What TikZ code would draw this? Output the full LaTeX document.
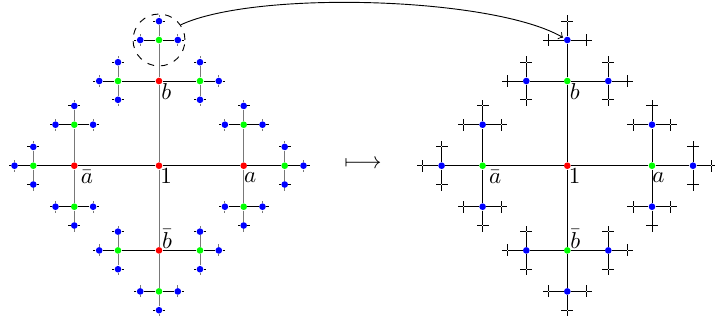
\documentclass[tikz,border=0pt]{standalone}
\usetikzlibrary{calc}
\definecolor{dotred}{RGB}{255,0,0}
\definecolor{dotgreen}{RGB}{0,255,0}
\definecolor{dotblue}{RGB}{0,0,255}
\definecolor{bline}{RGB}{120,120,120}
\tikzset{
  dotbase/.style={circle, inner sep=0pt, minimum size=2.9pt, draw=none},
  redpt/.style={dotbase, fill=dotred},
  greenpt/.style={dotbase, fill=dotgreen},
  bluept/.style={dotbase, fill=dotblue},
  barept/.style={inner sep=0pt, minimum size=0pt},
  lab/.style={inner sep=0pt, anchor=base west},
  selcircle/.style={draw, dashed, circle, inner sep=0pt, minimum size=22.6pt},
}
\newcommand\dirs{E/1/0/hl,N/0/-1/vl,W/-1/0/hl,S/0/1/vl}
\newcommand\cayleytree[3]{%
  \node[lvA] (#1) at (#2,#3) {};
  \foreach \da/\ax/\ay/\as in \dirs {%
    \node[lvB] (#1-\da) at ($(#1)+(84.7*\ax,84.7*\ay)$) {};
    \draw[\as] (#1) -- (#1-\da);
    \foreach \db/\bx/\by/\bs in \dirs {%
      \pgfmathtruncatemacro\oppb{(\ax+\bx==0)*(\ay+\by==0)}%
      \ifnum\oppb=0
        \node[lvC] (#1-\da-\db) at ($(#1-\da)+(41*\bx,41*\by)$) {};
        \draw[\bs] (#1-\da) -- (#1-\da-\db);
        \foreach \dc/\cx/\cy/\cs in \dirs {%
          \pgfmathtruncatemacro\oppc{(\bx+\cx==0)*(\by+\cy==0)}%
          \ifnum\oppc=0
            \node[lvD] (#1-\da-\db-\dc) at ($(#1-\da-\db)+(18.8*\cx,18.8*\cy)$) {};
            \draw[\cs] (#1-\da-\db) -- (#1-\da-\db-\dc);
            \foreach \dd/\ex/\ey/\es in \dirs {%
              \pgfmathtruncatemacro\oppd{(\cx+\ex==0)*(\cy+\ey==0)}%
              \ifnum\oppd=0
                \coordinate (#1-\da-\db-\dc-\dd) at ($(#1-\da-\db-\dc)+(6*\ex,6*\ey)$);
                \draw[\es] (#1-\da-\db-\dc) -- (#1-\da-\db-\dc-\dd);
              \fi
            }%
          \fi
        }%
      \fi
    }%
  }%
  \node[lab] (#1-l1) at ($(#1)+(1,17.5)$) {$1$};
  \node[lab] (#1-lb) at ($(#1-N)+(2,18)$) {$b$};
  \node[lab] (#1-la) at ($(#1-E)+(0,16.5)$) {$a$};
  \node[lab] (#1-lai) at ($(#1-W)+(6,17.5)$) {$\bar{a}$};
  \node[lab] (#1-lbi) at ($(#1-S)+(2.7,-2)$) {$\bar{b}$};
}
\begin{document}
\begin{tikzpicture}[x=0.435pt,y=-0.435pt]
\useasboundingbox (0,0) rectangle (715,325);
\begin{scope}[lvA/.style={redpt}, lvB/.style={redpt}, lvC/.style={greenpt}, lvD/.style={bluept},
  hl/.style={draw=black}, vl/.style={draw=bline}]
  \cayleytree{L}{159}{165.7}
\end{scope}
\begin{scope}[lvA/.style={redpt}, lvB/.style={greenpt}, lvC/.style={bluept}, lvD/.style={barept},
  hl/.style={draw=black}, vl/.style={draw=black}]
  \cayleytree{R}{567.3}{165.7}
\end{scope}
\node[selcircle] (circ) at (L-N-N) {};
\draw[->, shorten >=0.5pt] (circ.35) to[out=25, in=150, looseness=0.55] (R-N-N);
\node (mt) at (363,164.5) {$\longmapsto$};
\end{tikzpicture}
\end{document}
